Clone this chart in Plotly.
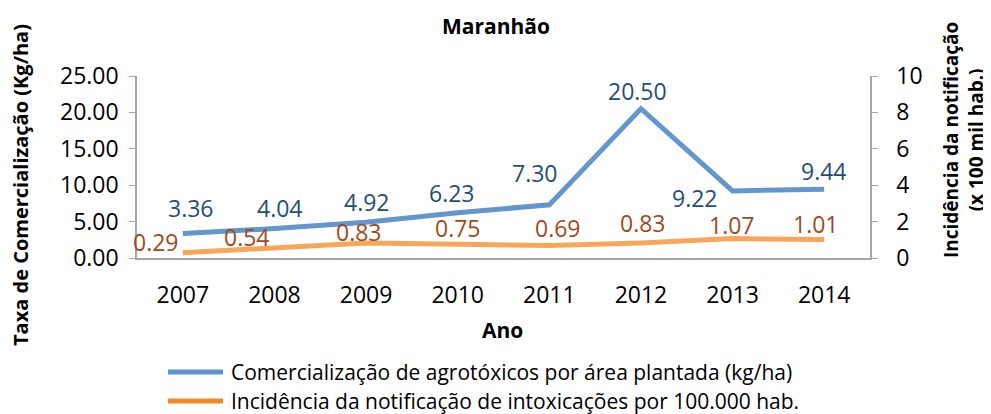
import plotly.graph_objects as go

years = ["2007", "2008", "2009", "2010", "2011", "2012", "2013", "2014"]
comercializacao = [3.36, 4.04, 4.92, 6.23, 7.30, 20.50, 9.22, 9.44]
incidencia = [0.29, 0.54, 0.83, 0.75, 0.69, 0.83, 1.07, 1.01]
series_names = [
    "Comercialização de agrotóxicos por área plantada (kg/ha)",
    "Incidência da notificação de intoxicações por 100.000 hab.",
]
left_ticks = [0, 5, 10, 15, 20, 25]
right_ticks = [0, 2, 4, 6, 8, 10]

# label pixel offsets (styling)
blue_off = [(8, -26), (6, -21), (1, -20), (-6, -20), (-14, -32), (-3, -18), (-38, 7), (0, -18)]
orange_off = [(-27, -11), (-27, -11), (-7, -11), (0, -16), (9, -17), (2, -20), (-1, -14), (-8, -16)]

FONT = "Open Sans"
BLUE = "#6296CD"
ORANGE = "#F9A65A"
BLUE_LEG = "#5B93CF"
ORANGE_LEG = "#F0892A"
BLUE_TXT = "#1F4E79"
ORANGE_TXT = "#9E4A1C"
AX = "#A6A6A6"

# page offset (browser body margin) is compensated in the layout margins
L, T, PW, PH = 137, 76, 733, 182


def px(xp):
    return (xp - L) / PW


def py(yp):
    return (T + PH - yp) / PH


fig = go.Figure()
fig.add_trace(go.Scatter(x=years, y=comercializacao, mode="lines", name=series_names[0],
                         line=dict(color=BLUE, width=5), showlegend=False, yaxis="y"))
fig.add_trace(go.Scatter(x=years, y=incidencia, mode="lines", name=series_names[1],
                         line=dict(color=ORANGE, width=5), showlegend=False, yaxis="y2"))

ann = []
for i, v in enumerate(comercializacao):
    dx, dy = blue_off[i]
    ann.append(dict(x=i, y=v, xref="x", yref="y", text=f"{v:.2f}", showarrow=False,
                    xanchor="center", yanchor="middle",
                    xshift=dx, yshift=-dy, font=dict(family=FONT, size=23, color=BLUE_TXT)))
for i, v in enumerate(incidencia):
    dx, dy = orange_off[i]
    ann.append(dict(x=i, y=v, xref="x", yref="y2", text=f"{v:.2f}", showarrow=False,
                    xanchor="center", yanchor="middle",
                    xshift=dx, yshift=-dy, font=dict(family=FONT, size=23, color=ORANGE_TXT)))

c = dict(xanchor="center", yanchor="middle", showarrow=False, xref="paper", yref="paper")
ann.append(dict(text="<b>Maranhão</b>", x=px(496), y=py(26), font=dict(family=FONT, size=21, color="#000"), **c))
ann.append(dict(text="<b>Ano</b>", x=px(502), y=py(330), font=dict(family=FONT, size=21, color="#000"), **c))
ann.append(dict(text="<b>Taxa de Comercialização (Kg/ha)</b>", x=px(20), y=py(185), textangle=-90,
                font=dict(family=FONT, size=20, color="#000"), **c))
ann.append(dict(text="<b>Incidência da notificação<br>(x 100 mil hab.)</b>", x=px(963), y=py(140),
                textangle=-90, font=dict(family=FONT, size=19, color="#000"), **c))

# manual legend
shapes = []
for name, col, ly in zip(series_names, [BLUE_LEG, ORANGE_LEG], [372, 401]):
    shapes.append(dict(type="line", xref="paper", yref="paper", x0=px(168), x1=px(223),
                       y0=py(ly), y1=py(ly), line=dict(color=col, width=5)))
    ann.append(dict(text=name, xref="paper", yref="paper", x=px(229), y=py(ly), xanchor="left",
                    yanchor="middle", showarrow=False, font=dict(family=FONT, size=21, color="#000")))

fig.update_layout(
    width=983, height=406,
    margin=dict(l=L - 8, r=121, t=T - 8, b=156, pad=0),
    paper_bgcolor="white", plot_bgcolor="white",
    showlegend=False,
    annotations=ann, shapes=shapes,
    font=dict(family=FONT, size=23, color="#000"),
    xaxis=dict(type="category", categoryorder="array", categoryarray=years, range=[-0.5, 7.5],
               showline=True, linecolor=AX, linewidth=1.5, ticks="", showgrid=False,
               ticklabelstandoff=16, tickfont=dict(family=FONT, size=23, color="#000")),
    yaxis=dict(range=[0, 25], tickvals=left_ticks, tickformat=".2f", showline=True, linecolor=AX,
               linewidth=1.5, ticks="outside", ticklen=6, tickcolor=AX, showgrid=False, zeroline=False,
               ticklabelstandoff=6, tickfont=dict(family=FONT, size=23, color="#000")),
    yaxis2=dict(range=[0, 10], tickvals=right_ticks, overlaying="y", side="right", showline=True,
                linecolor=AX, linewidth=1.5, ticks="outside", ticklen=6, tickcolor=AX, showgrid=False,
                zeroline=False, ticklabelstandoff=14, tickfont=dict(family=FONT, size=23, color="#000")),
)

fig.write_html("out.html")
